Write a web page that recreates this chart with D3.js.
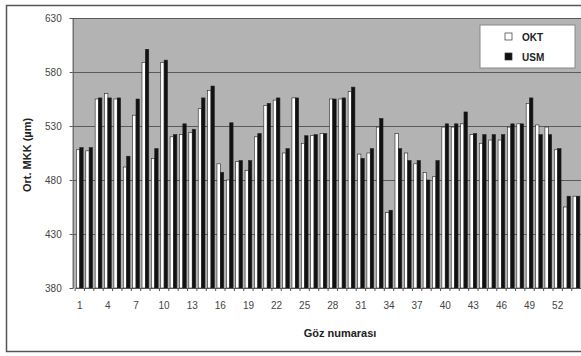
<!DOCTYPE html>
<html>
<head>
<meta charset="utf-8">
<script src="https://cdn.jsdelivr.net/npm/d3@7"></script>
<style>
  body { margin: 0; background: #fff; }
  svg { display: block; font-family: Arial, "Liberation Sans", sans-serif; }
</style>
</head>
<body>
<div id="chart"></div>
<script>
// categories (eye numbers) and the two series
const categories = d3.range( 1, 55 );
const seriesNames = [ 'OKT', 'USM' ];

const okt = [ 508, 507, 555, 560, 555, 492, 540, 589, 500, 589,
              520, 522, 524, 546, 563, 495, 480, 497, 489, 520,
              549, 554, 505, 556, 514, 521, 523, 555, 555, 562,
              504, 505, 529, 450, 523, 505, 495, 487, 483, 529,
              529, 532, 522, 514, 517, 517, 529, 532, 551, 531,
              529, 508, 455, 465 ];

const usm = [ 510, 510, 556, 556, 556, 502, 555, 601, 509, 591,
              522, 532, 527, 556, 567, 487, 533, 498, 498, 523,
              551, 556, 509, 556, 521, 522, 523, 555, 556, 566,
              500, 509, 537, 452, 509, 498, 498, 480, 498, 532,
              532, 543, 523, 522, 522, 522, 532, 532, 556, 522,
              522, 509, 465, 465 ];

const yTicks = [ 380, 430, 480, 530, 580, 630 ];
const xTickLabels = d3.range( 1, 55, 3 );

const W = 581, H = 356;
const plot = { left: 72.7, right: 582, top: 18, bottom: 288 };

const svg = d3.select( '#chart' ).append( 'svg' )
  .attr( 'width', W )
  .attr( 'height', H );

// outer frame
svg.append( 'rect' )
  .attr( 'x', 6.5 ).attr( 'y', 5.5 )
  .attr( 'width', W + 10 ).attr( 'height', 346 )
  .attr( 'fill', '#fff' )
  .attr( 'stroke', '#555' )
  .attr( 'stroke-width', 1.5 );

// plot background
svg.append( 'rect' )
  .attr( 'x', plot.left ).attr( 'y', plot.top )
  .attr( 'width', plot.right - plot.left ).attr( 'height', plot.bottom - plot.top )
  .attr( 'fill', '#b3b3b3' );

const y = d3.scaleLinear().domain( [ 380, 630 ] ).range( [ plot.bottom, plot.top ] );

const x0 = d3.scaleBand()
  .domain( categories )
  .range( [ 75.1, 581.1 ] )
  .paddingInner( 0.28 )
  .paddingOuter( 0.14 );

const x1 = d3.scaleBand()
  .domain( seriesNames )
  .range( [ 0, x0.bandwidth() ] );

// gridlines
svg.append( 'g' )
  .selectAll( 'line' )
  .data( yTicks.filter( d => d > 380 ) )
  .join( 'line' )
  .attr( 'x1', plot.left ).attr( 'x2', plot.right )
  .attr( 'y1', d => Math.round( y( d ) ) + 0.5 )
  .attr( 'y2', d => Math.round( y( d ) ) + 0.5 )
  .attr( 'stroke', '#5a5a5a' )
  .attr( 'stroke-width', 1.2 );

// bars
const rows = categories.map( ( c, i ) => ( { cat: c, OKT: okt[ i ], USM: usm[ i ] } ) );

svg.append( 'g' )
  .selectAll( 'g' )
  .data( rows )
  .join( 'g' )
  .attr( 'transform', d => `translate(${x0( d.cat )},0)` )
  .selectAll( 'rect' )
  .data( d => seriesNames.map( k => ( { key: k, value: d[ k ] } ) ) )
  .join( 'rect' )
  .attr( 'x', d => x1( d.key ) )
  .attr( 'y', d => y( d.value ) )
  .attr( 'width', x1.bandwidth() )
  .attr( 'height', d => y( 380 ) - y( d.value ) )
  .attr( 'fill', d => d.key === 'OKT' ? '#fff' : '#111' )
  .attr( 'stroke', '#222' )
  .attr( 'stroke-width', 0.6 );

// y axis
const yAxis = svg.append( 'g' )
  .attr( 'transform', `translate(${plot.left},0)` )
  .call( d3.axisLeft( y ).tickValues( yTicks ).tickSize( 3 ).tickPadding( 8 ) );
yAxis.select( '.domain' ).attr( 'stroke', '#555' );
yAxis.selectAll( '.tick line' ).attr( 'stroke', '#555' );
yAxis.selectAll( 'text' )
  .attr( 'fill', '#444' )
  .style( 'font-size', '10px' )
  .style( 'font-family', 'Arial, "Liberation Sans", sans-serif' );

// x axis
const xAxis = svg.append( 'g' )
  .attr( 'transform', `translate(0,${plot.bottom})` )
  .call( d3.axisBottom( x0 )
    .tickValues( xTickLabels )
    .tickSize( 0 )
    .tickPadding( 14 ) );
xAxis.select( '.domain' ).attr( 'stroke', '#555' );
xAxis.selectAll( 'text' )
  .attr( 'fill', '#444' )
  .style( 'font-size', '10px' )
  .style( 'font-family', 'Arial, "Liberation Sans", sans-serif' );

// small tick marks between categories
svg.append( 'g' )
  .selectAll( 'line' )
  .data( categories )
  .join( 'line' )
  .attr( 'x1', d => x0( d ) - x0.step() * x0.paddingInner() / 2 )
  .attr( 'x2', d => x0( d ) - x0.step() * x0.paddingInner() / 2 )
  .attr( 'y1', plot.bottom )
  .attr( 'y2', plot.bottom + 3 )
  .attr( 'stroke', '#555' );

// axis titles
svg.append( 'text' )
  .attr( 'transform', `translate(31,${( plot.top + plot.bottom ) / 2 + 2}) rotate(-90)` )
  .attr( 'text-anchor', 'middle' )
  .style( 'font-size', '11px' )
  .style( 'font-weight', 'bold' )
  .attr( 'fill', '#222' )
  .text( 'Ort. MKK (µm)' );

svg.append( 'text' )
  .attr( 'x', 340 )
  .attr( 'y', 337 )
  .attr( 'text-anchor', 'middle' )
  .style( 'font-size', '11px' )
  .style( 'font-weight', 'bold' )
  .attr( 'fill', '#222' )
  .text( 'Göz numarası' );

// legend
const legend = svg.append( 'g' ).attr( 'transform', 'translate(480,25)' );
legend.append( 'rect' )
  .attr( 'width', 95 ).attr( 'height', 43 )
  .attr( 'fill', '#fff' )
  .attr( 'stroke', '#888' );

legend.selectAll( 'g' )
  .data( seriesNames )
  .join( 'g' )
  .attr( 'transform', ( d, i ) => `translate(25,${12 + i * 20})` )
  .call( g => {
    g.append( 'rect' )
      .attr( 'x', 0 ).attr( 'y', -4 )
      .attr( 'width', 7 ).attr( 'height', 7 )
      .attr( 'fill', d => d === 'OKT' ? '#fff' : '#111' )
      .attr( 'stroke', '#333' )
      .attr( 'stroke-width', 0.7 );
    g.append( 'text' )
      .attr( 'x', 17 ).attr( 'y', 4 )
      .style( 'font-size', '10px' )
      .style( 'font-weight', 'bold' )
      .attr( 'fill', '#222' )
      .text( d => d );
  } );
</script>
</body>
</html>
